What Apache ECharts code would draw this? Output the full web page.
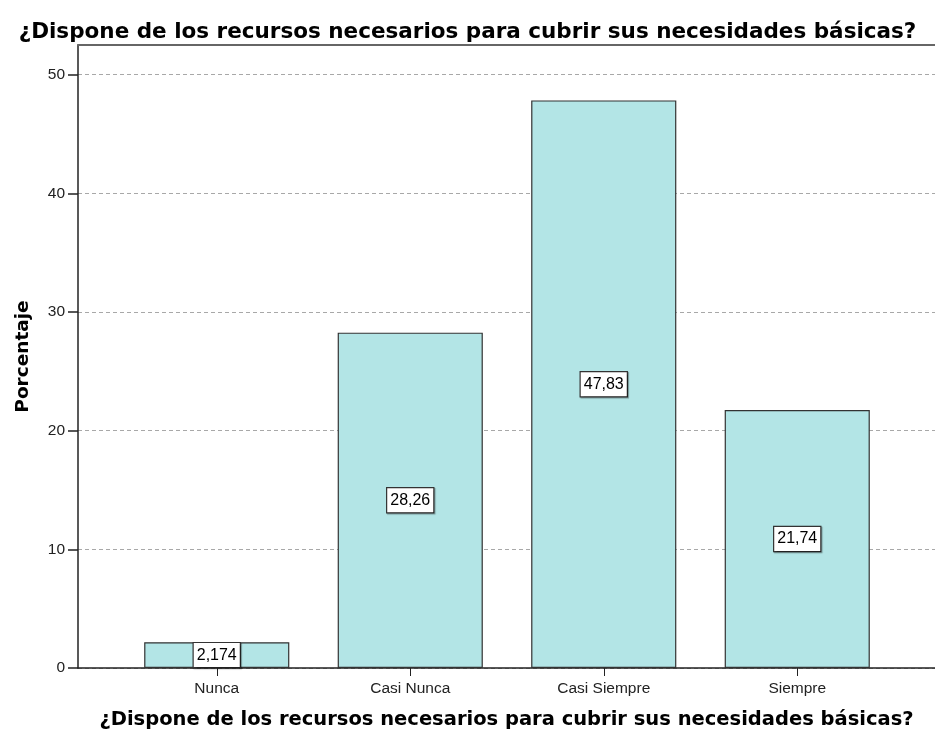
<!DOCTYPE html>
<html>
<head>
<meta charset="utf-8">
<script src="https://cdn.jsdelivr.net/npm/echarts@6/dist/echarts.min.js"></script>
<style>
  html, body { margin: 0; padding: 0; background: #fff; }
  #chart { width: 935px; height: 738px; }
</style>
</head>
<body>
<div id="chart"></div>
<script>
const categories = ['Nunca', 'Casi Nunca', 'Casi Siempre', 'Siempre'];
const percentages = [2.174, 28.26, 47.83, 21.74];
const valueLabels = ['2,174', '28,26', '47,83', '21,74'];
const yTicks = [0, 10, 20, 30, 40, 50];

const titleText = '¿Dispone de los recursos necesarios para cubrir sus necesidades básicas?';
const yMax = 52.5;

const chart = echarts.init(document.getElementById('chart'));

const option = {
  animation: false,
  title: {
    text: titleText,
    left: 'center',
    top: 16,
    textStyle: { fontFamily: 'DejaVu Sans', fontSize: 21.5, fontWeight: 'bold', color: '#000' }
  },
  grid: [
    // frame: y axis, grid lines, base line
    { left: 78, right: 0, top: 45, bottom: 70, outerBoundsMode: 'none', containLabel: false },
    // bars
    { left: 120, right: 41, top: 45, bottom: 70, outerBoundsMode: 'none', containLabel: false }
  ],
  xAxis: [
    {
      gridIndex: 0, type: 'category', data: [''], position: 'bottom',
      axisLine: { lineStyle: { color: '#222', width: 1.5 } },
      axisTick: { show: false }, axisLabel: { show: false },
      name: titleText, nameLocation: 'middle', nameGap: 42,
      nameTextStyle: { fontFamily: 'DejaVu Sans', fontSize: 19.5, fontWeight: 'bold', color: '#000' }
    },
    {
      gridIndex: 0, type: 'category', data: [''], position: 'top',
      axisLine: { lineStyle: { color: '#666', width: 2 } },
      axisTick: { show: false }, axisLabel: { show: false }
    },
    {
      gridIndex: 1, type: 'category', data: categories,
      axisLine: { show: false },
      axisTick: { show: true, alignWithLabel: true, length: 8, lineStyle: { color: '#222' } },
      axisLabel: { fontFamily: 'Liberation Sans, Arial', fontSize: 15.5, color: '#222', margin: 13 }
    }
  ],
  yAxis: [
    {
      gridIndex: 0, type: 'value', min: 0, max: yMax, interval: 10,
      axisLine: { show: true, lineStyle: { color: '#222', width: 1.5 } },
      axisTick: { show: true, length: 10, lineStyle: { color: '#222', width: 1.5 } },
      axisLabel: {
        fontFamily: 'Liberation Sans, Arial', fontSize: 15.5, color: '#222', margin: 13,
        showMaxLabel: false,
        formatter: v => (yTicks.includes(v) ? String(v) : '')
      },
      splitLine: { show: true, lineStyle: { color: '#a8a8a8', type: [4, 3], width: 1 } },
      name: 'Porcentaje', nameLocation: 'middle', nameGap: 45, nameRotate: 90,
      nameTextStyle: { fontFamily: 'DejaVu Sans', fontSize: 18.5, fontWeight: 'bold', color: '#000' }
    },
    {
      gridIndex: 1, type: 'value', min: 0, max: yMax, show: false
    }
  ],
  series: [
    {
      type: 'bar',
      xAxisIndex: 2, yAxisIndex: 1,
      barWidth: '75%',
      data: percentages,
      itemStyle: { color: '#b3e5e6', borderColor: '#333', borderWidth: 1.2 },
      label: {
        show: true, position: 'inside',
        formatter: p => valueLabels[p.dataIndex],
        fontFamily: 'Liberation Sans, Arial', fontSize: 16, color: '#000',
        backgroundColor: '#fff', borderColor: '#333', borderWidth: 1.2,
        padding: [5, 3, 3, 3],
        shadowColor: 'rgba(0,0,0,0.35)', shadowOffsetX: 1, shadowOffsetY: 1, shadowBlur: 1
      }
    }
  ]
};

chart.setOption(option);
</script>
</body>
</html>
